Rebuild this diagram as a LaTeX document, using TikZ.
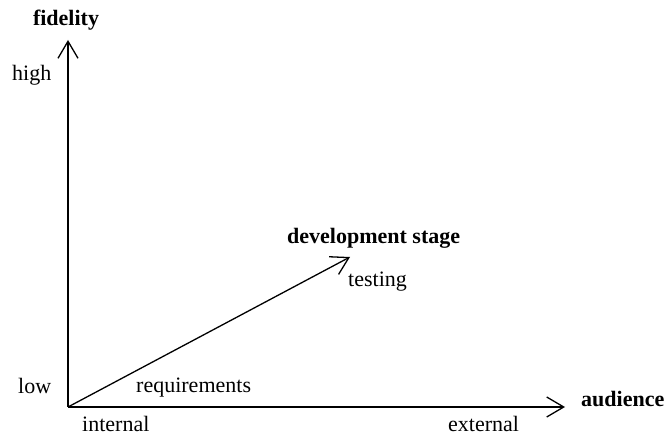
\documentclass[tikz,border=0pt]{standalone}
\usepackage{fontspec}
\setmainfont{Liberation Serif}
\usetikzlibrary{arrows.meta}
\begin{document}
\begin{tikzpicture}[x=1pt,y=1pt,
  lbl/.style={inner sep=0pt,anchor=base west,font=\fontsize{22}{26}\selectfont},
  blbl/.style={lbl,font=\fontsize{22}{26}\selectfont\bfseries},
  axis/.style={line width=1.3pt,-{Straight Barb[length=17pt,width=20pt,line width=1.3pt]}}]
\useasboundingbox (0,0) rectangle (666,436);
\coordinate (O) at (68,29);
\coordinate (Y) at (68,396);
\coordinate (X) at (565,29);
\coordinate (D) at (350,179);
\draw[axis] (O) -- (Y);
\draw[axis] (O) -- (X);
\draw[axis] (O) -- (D);
\node[blbl,anchor=base] (fid) at (66,410) {fidelity};
\node[lbl] (high) at (12,355) {high};
\node[lbl] (low) at (18,42) {low};
\node[lbl] (req) at (136,43) {requirements};
\node[lbl] (int) at (82,5) {internal};
\node[lbl] (ext) at (448,5) {external};
\node[blbl] (aud) at (581,29) {audience};
\node[blbl] (dev) at (287,192) {development stage};
\node[lbl] (test) at (348,149) {testing};
\end{tikzpicture}
\end{document}
